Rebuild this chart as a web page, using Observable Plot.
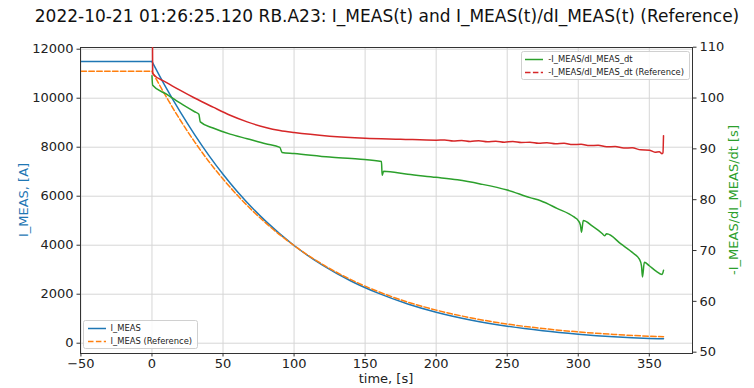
<!DOCTYPE html>
<html><head><meta charset="utf-8">
<script src="https://cdn.jsdelivr.net/npm/d3@7"></script>
<script src="https://cdn.jsdelivr.net/npm/@observablehq/plot@0.6"></script>
<style>
body{margin:0;background:#fff;font-family:"DejaVu Sans",sans-serif;color:#1a1a1a;}
#wrap{position:relative;width:754px;height:388px;overflow:hidden;background:#fff}
#title{position:absolute;left:387px;top:8px;transform:translateX(-50%);white-space:nowrap;font-size:17px;line-height:1;color:#111}
#plots{position:absolute;left:0;top:30px;width:754px;height:358px}
#plots svg{position:absolute;left:0;top:0}
.lab{position:absolute;white-space:nowrap;font-size:13px;line-height:1}
.legend{position:absolute;background:rgba(255,255,255,0.85);border:1px solid #d0d0d0;border-radius:2.5px;padding:0.5px 5px 0.5px 2.5px;font-size:8.4px;color:#222}
.legend .row{display:flex;align-items:center;height:13px;white-space:nowrap}
.legend svg{margin-right:5px}
</style></head><body>
<div id="wrap">
  <div id="title">2022-10-21 01:26:25.120 RB.A23: I_MEAS(t) and I_MEAS(t)/dI_MEAS(t) (Reference)</div>
  <div id="plots"></div>
  <div class="lab" id="xlab" style="left:386px;top:372px;transform:translateX(-50%);color:#222">time, [s]</div>
  <div class="lab" id="ylabL" style="left:23px;top:200px;transform:translate(-50%,-50%) rotate(-90deg);color:#1f77b4">I_MEAS, [A]</div>
  <div class="lab" id="ylabR" style="left:733px;top:200px;transform:translate(-50%,-50%) rotate(-90deg);color:#2ca02c">-I_MEAS/dI_MEAS/dt [s]</div>
  <div class="legend" id="legL" style="left:83px;top:320px"></div>
  <div class="legend" id="legR" style="right:64px;top:51px"></div>
</div>
<script>
// ---- data ----
const xTicks = [-50, 0, 50, 100, 150, 200, 250, 300, 350];
const leftTicks = [0, 2000, 4000, 6000, 8000, 10000, 12000];
const rightTicks = [50, 60, 70, 80, 90, 100, 110];

// I_MEAS [A]
const tI = [-50, 0, 10, 20, 30, 40, 50, 60, 80, 100, 120, 140, 160, 180, 200, 225, 250, 275, 300, 325, 350, 360];
const iMeas = [11500, 11500, 10422, 9430, 8516, 7669, 6895, 6192, 4982, 3988, 3184, 2539, 2022, 1602, 1265, 939, 694, 508, 368, 262, 195, 180];
// I_MEAS (Reference) [A]
const iMeasRef = [11100, 11100, 10060, 9100, 8220, 7420, 6700, 6045, 4910, 3985, 3219, 2594, 2088, 1679, 1351, 1029, 782, 600, 462, 360, 285, 262];

// -I_MEAS/dI_MEAS_dt [s]
const tTau = [0, 0.5, 10, 20, 30, 33, 34, 43, 55, 67, 80, 90, 91.5, 100, 125, 145, 161.5, 162, 163, 180, 200, 215, 231, 250, 266, 273.5, 285, 297, 300, 301.5, 302.3, 303.5, 310, 317, 318.5, 320, 330, 339, 343, 344.5, 345.2, 346.5, 350, 355, 359, 360];
const tau = [104.4, 102.5, 100.8, 99.0, 97.3, 96.8, 95.3, 94.1, 92.9, 92.0, 91.0, 90.3, 89.3, 89.1, 88.4, 88.0, 87.5, 84.8, 85.6, 85.0, 84.4, 83.9, 83.1, 81.9, 80.4, 79.8, 78.3, 76.6, 75.9, 75.0, 73.6, 75.9, 74.8, 73.3, 72.9, 73.3, 71.3, 69.4, 68.3, 67.0, 64.8, 67.7, 67.0, 65.9, 65.3, 66.1];

// -I_MEAS/dI_MEAS_dt (Reference) [s]
const tTauRef = [0, 0.5, 10, 20, 30, 43, 55, 67, 80, 90, 100, 125, 150, 175, 200, 206, 212, 218, 224, 230, 236, 242, 248, 254, 260, 266, 272, 278, 284, 290, 296, 302, 308, 314, 320, 326, 332, 338, 344, 350, 354, 357, 359, 359.6, 360];
const tauRef = [130, 104.8, 103.1, 101.5, 100.0, 98.2, 96.6, 95.3, 94.2, 93.6, 93.2, 92.5, 92.1, 91.9, 91.7, 91.75, 91.55, 91.65, 91.45, 91.6, 91.4, 91.5, 91.3, 91.45, 91.25, 91.3, 91.1, 91.2, 91.0, 91.1, 90.85, 90.9, 90.65, 90.7, 90.4, 90.45, 90.15, 90.2, 89.8, 89.75, 89.35, 89.45, 89.05, 89.2, 92.6];

// ---- tables ----
const iTab = tI.map((t, k) => ({t, v: iMeas[k], r: iMeasRef[k]}));
const flat = iTab.filter(d => d.t <= 0), decay = iTab.filter(d => d.t >= 0);
const tauTab = tTau.map((t, k) => ({t, v: tau[k]}));
const tauRefTab = tTauRef.map((t, k) => ({t, v: tauRef[k]}));

const W = 754, H = 358, ML = 80, MR = 62, MT = 17, MB = 35;
const xDom = [-50.3, 380.4];
const fmt = d => d < 0 ? "\u2212" + (-d) : String(d);
const style = {fontFamily: "DejaVu Sans", fontSize: "13px", color: "#222", background: "transparent", overflow: "visible"};
const blue = "#1f77b4", orange = "#ff7f0e", green = "#2ca02c", red = "#d62728";

const p1 = Plot.plot({
  width: W, height: H, marginLeft: ML, marginRight: MR, marginTop: MT, marginBottom: MB,
  style,
  x: {domain: xDom},
  y: {domain: [-420, 12070]},
  marks: [
    Plot.gridX(xTicks, {stroke: "#d6d6d6", strokeOpacity: 1, strokeWidth: 1}),
    Plot.gridY(leftTicks, {stroke: "#d6d6d6", strokeOpacity: 1, strokeWidth: 1}),
    Plot.line(flat, {x: "t", y: "v", stroke: blue, strokeWidth: 1.5}),
    Plot.line(decay, {x: "t", y: "v", stroke: blue, strokeWidth: 1.5, curve: "monotone-x"}),
    Plot.line(flat, {x: "t", y: "r", stroke: orange, strokeWidth: 1.5, strokeDasharray: "5.5,2.4"}),
    Plot.line(decay, {x: "t", y: "r", stroke: orange, strokeWidth: 1.5, strokeDasharray: "5.5,2.4", curve: "monotone-x"}),
    Plot.axisX({ticks: xTicks, tickFormat: fmt, tickSize: 3.5, tickPadding: 1.5, label: null, stroke: "#333"}),
    Plot.axisY({ticks: leftTicks, anchor: "left", tickFormat: fmt, tickSize: 3.5, tickPadding: 3.5, label: null, stroke: "#333"}),
    Plot.frame({stroke: "#333", strokeWidth: 1})
  ]
});

const p2 = Plot.plot({
  width: W, height: H, marginLeft: ML, marginRight: MR, marginTop: MT, marginBottom: MB,
  style,
  x: {domain: xDom, axis: null},
  y: {domain: [49.74, 109.94]},
  marks: [
    Plot.line(tauTab, {x: "t", y: "v", stroke: green, strokeWidth: 1.5, curve: "monotone-x", clip: true}),
    Plot.line(tauRefTab, {x: "t", y: "v", stroke: red, strokeWidth: 1.5, curve: "monotone-x", clip: true}),
    Plot.axisY({ticks: rightTicks, anchor: "right", tickFormat: fmt, tickSize: 3.5, tickPadding: 3.5, label: null, stroke: "#333"})
  ]
});

const host = document.getElementById("plots");
host.append(p1, p2);

// ---- legends ----
function legend(el, items) {
  for (const it of items) {
    const row = document.createElement("div");
    row.className = "row";
    row.innerHTML = `<svg width="19" height="13"><line x1="1" x2="19" y1="6.5" y2="6.5" stroke="${it.color}" stroke-width="1.5" ${it.dash ? 'stroke-dasharray="5.5,2.4"' : ""}/></svg><span>${it.label}</span>`;
    el.append(row);
  }
}
legend(document.getElementById("legL"), [
  {label: "I_MEAS", color: blue, dash: false},
  {label: "I_MEAS (Reference)", color: orange, dash: true}
]);
legend(document.getElementById("legR"), [
  {label: "-I_MEAS/dI_MEAS_dt", color: green, dash: false},
  {label: "-I_MEAS/dI_MEAS_dt (Reference)", color: red, dash: true}
]);
</script>
</body></html>
